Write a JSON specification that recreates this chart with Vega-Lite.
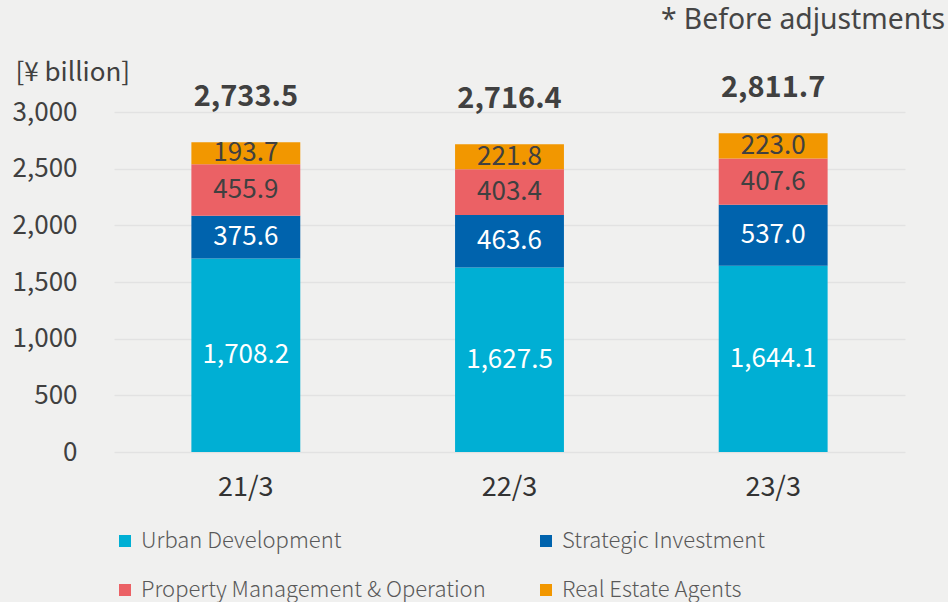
{
  "$schema": "https://vega.github.io/schema/vega-lite/v6.json",
  "autosize": {"type": "none"},
  "width": 791,
  "height": 340,
  "padding": {"left": 114, "top": 112, "right": 43, "bottom": 150},
  "background": "#f0f0ef",
  "config": {
    "view": {"stroke": null},
    "font": "Noto Sans CJK JP"
  },
  "title": {
    "text": "* Before adjustments",
    "anchor": "end",
    "frame": "group",
    "orient": "top",
    "fontSize": 28.3,
    "fontWeight": "normal",
    "font": "Noto Sans",
    "color": "#454545",
    "dx": 40,
    "offset": 24
  },
  "datasets": {
    "segments": [
      {"year": "21/3", "segment": "Urban Development", "k": 1, "value": 1708.2},
      {"year": "21/3", "segment": "Strategic Investment", "k": 2, "value": 375.6},
      {"year": "21/3", "segment": "Property Management & Operation", "k": 3, "value": 455.9},
      {"year": "21/3", "segment": "Real Estate Agents", "k": 4, "value": 193.7},
      {"year": "22/3", "segment": "Urban Development", "k": 1, "value": 1627.5},
      {"year": "22/3", "segment": "Strategic Investment", "k": 2, "value": 463.6},
      {"year": "22/3", "segment": "Property Management & Operation", "k": 3, "value": 403.4},
      {"year": "22/3", "segment": "Real Estate Agents", "k": 4, "value": 221.8},
      {"year": "23/3", "segment": "Urban Development", "k": 1, "value": 1644.1},
      {"year": "23/3", "segment": "Strategic Investment", "k": 2, "value": 537.0},
      {"year": "23/3", "segment": "Property Management & Operation", "k": 3, "value": 407.6},
      {"year": "23/3", "segment": "Real Estate Agents", "k": 4, "value": 223.0}
    ],
    "totals": [
      {"year": "21/3", "total": 2733.5},
      {"year": "22/3", "total": 2716.4},
      {"year": "23/3", "total": 2811.7}
    ]
  },
  "encoding": {
    "x": {
      "field": "year",
      "type": "nominal",
      "sort": ["21/3", "22/3", "23/3"],
      "scale": {"paddingInner": 0.587, "paddingOuter": 0.2935},
      "axis": {
        "title": null,
        "labelAngle": 0,
        "labelFontSize": 27,
        "labelColor": "#333333",
        "labelPadding": 22,
        "ticks": false,
        "domain": false
      }
    }
  },
  "layer": [
    {
      "data": {"name": "segments"},
      "mark": {"type": "bar"},
      "encoding": {
        "y": {
          "field": "value",
          "type": "quantitative",
          "stack": "zero",
          "scale": {"domain": [0, 3000], "nice": false},
          "axis": {
            "title": "[¥ billion]",
            "titleAngle": 0,
            "titleAlign": "left",
            "titleBaseline": "middle",
            "titleX": -99,
            "titleY": -40,
            "titleFontSize": 26,
            "titleFontWeight": "normal",
            "titleColor": "#404040",
            "values": [0, 500, 1000, 1500, 2000, 2500, 3000],
            "format": ",d",
            "labelFontSize": 26,
            "labelColor": "#404040",
            "labelPadding": 37,
            "ticks": false,
            "domain": false,
            "grid": true,
            "gridColor": "#e2e2e2",
            "gridWidth": 1.5
          }
        },
        "order": {"field": "k", "type": "quantitative", "sort": "ascending"},
        "color": {
          "field": "segment",
          "type": "nominal",
          "scale": {
            "domain": ["Urban Development", "Property Management & Operation", "Strategic Investment", "Real Estate Agents"],
            "range": ["#00afd4", "#eb6165", "#0063ad", "#f29700"]
          },
          "legend": {
            "title": null,
            "orient": "none",
            "legendX": 0,
            "legendY": 418,
            "columns": 2,
            "columnPadding": 49,
            "rowPadding": 27,
            "symbolType": "square",
            "symbolSize": 144,
            "symbolStrokeWidth": 0,
            "labelFontSize": 22,
            "labelFontWeight": 300,
            "labelColor": "#595959",
            "labelOffset": 5,
            "labelLimit": 500
          }
        }
      }
    },
    {
      "data": {"name": "segments"},
      "mark": {"type": "text", "fontSize": 26, "baseline": "middle"},
      "encoding": {
        "y": {"field": "value", "type": "quantitative", "stack": "zero", "bandPosition": 0.5},
        "order": {"field": "k", "type": "quantitative", "sort": "ascending"},
        "text": {"field": "value", "type": "quantitative", "format": ",.1f"},
        "color": {
          "condition": {"test": "datum.k <= 2", "value": "#ffffff"},
          "value": "#404040"
        }
      }
    },
    {
      "data": {"name": "totals"},
      "mark": {"type": "text", "fontSize": 29, "fontWeight": "bold", "baseline": "middle", "dy": -45, "color": "#404040"},
      "encoding": {
        "y": {"field": "total", "type": "quantitative"},
        "text": {"field": "total", "type": "quantitative", "format": ",.1f"}
      }
    }
  ]
}
